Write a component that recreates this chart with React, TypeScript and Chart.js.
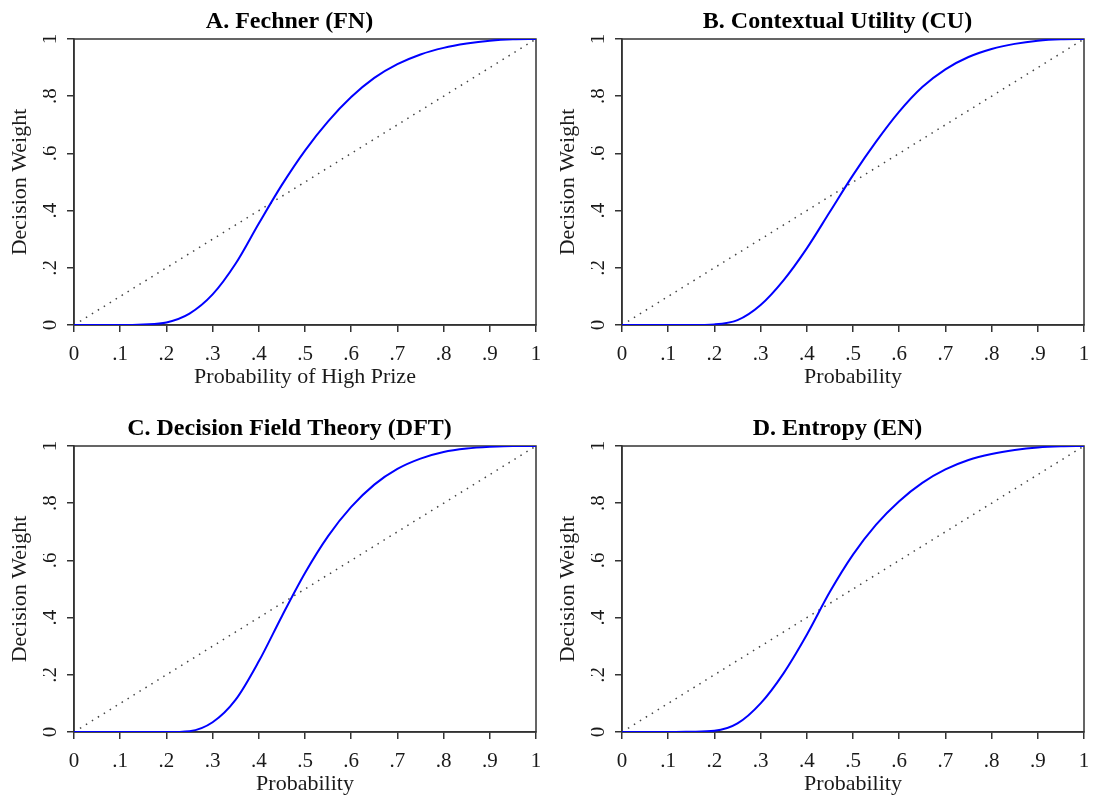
import React, { useEffect, useRef } from 'react';
import { Chart, registerables } from 'chart.js';

Chart.register(...registerables);
Chart.defaults.font.family = "'Liberation Serif', 'Times New Roman', serif";

// ---- data ----
const PROB = [0, 0.05, 0.1, 0.15, 0.2, 0.25, 0.3, 0.35, 0.4, 0.45, 0.5, 0.55, 0.6, 0.65, 0.7, 0.75, 0.8, 0.85, 0.9, 0.95, 1];
const FN_WEIGHT = [0, 0, 0, 0.002, 0.009, 0.04, 0.107, 0.215, 0.355, 0.49, 0.61, 0.712, 0.797, 0.864, 0.912, 0.946, 0.969, 0.984, 0.994, 0.999, 1];
const CU_WEIGHT = [0, 0, 0, 0, 0.002, 0.017, 0.07, 0.157, 0.268, 0.396, 0.524, 0.641, 0.746, 0.832, 0.894, 0.937, 0.965, 0.983, 0.994, 0.999, 1];
const DFT_WEIGHT = [0, 0, 0, 0, 0, 0.003, 0.034, 0.113, 0.247, 0.405, 0.556, 0.685, 0.787, 0.865, 0.92, 0.956, 0.979, 0.991, 0.997, 1, 1];
const EN_WEIGHT = [0, 0, 0, 0.001, 0.004, 0.03, 0.1, 0.206, 0.34, 0.49, 0.62, 0.725, 0.807, 0.871, 0.918, 0.951, 0.972, 0.986, 0.995, 0.999, 1];
const DIAGONAL = [0, 1];

const X_TICK_LABELS = ['0', '.1', '.2', '.3', '.4', '.5', '.6', '.7', '.8', '.9', '1'];
const Y_TICK_LABELS = ['0', '.2', '.4', '.6', '.8', '1'];

const TITLES = ['A. Fechner (FN)', 'B. Contextual Utility (CU)', 'C. Decision Field Theory (DFT)', 'D. Entropy (EN)'];
const X_LABELS = ['Probability of High Prize', 'Probability', 'Probability', 'Probability'];
const Y_LABEL = 'Decision Weight';
const SERIES = [FN_WEIGHT, CU_WEIGHT, DFT_WEIGHT, EN_WEIGHT];

// ---- layout ----
const PANEL_POS = [
  { left: 0, top: 0 },
  { left: 548, top: 0 },
  { left: 0, top: 407 },
  { left: 548, top: 407 },
];
const CANVAS_W = 547;
const CANVAS_H = 400;
const AXIS_COLOR = '#333333';
const TEXT_COLOR = '#1a1a1a';

const framePlugin = {
  id: 'plotFrame',
  beforeDatasetsDraw(chart: any) {
    const { ctx, chartArea } = chart;
    ctx.save();
    ctx.strokeStyle = AXIS_COLOR;
    ctx.lineWidth = 1.5;
    ctx.strokeRect(chartArea.left, chartArea.top, chartArea.right - chartArea.left, chartArea.bottom - chartArea.top);
    ctx.restore();
  },
};

function Panel({ idx }: { idx: number }) {
  const ref = useRef<HTMLCanvasElement>(null);
  useEffect(() => {
    const values = SERIES[idx];
    const chart = new Chart(ref.current as HTMLCanvasElement, {
      type: 'scatter',
      data: {
        datasets: [
          {
            data: PROB.map((p, i) => ({ x: p, y: values[i] })),
            showLine: true,
            borderColor: '#0000ff',
            borderWidth: 2,
            pointRadius: 0,
            cubicInterpolationMode: 'monotone',
            fill: false,
          } as any,
          {
            data: DIAGONAL.map((v) => ({ x: v, y: v })),
            showLine: true,
            borderColor: '#444444',
            borderWidth: 1.5,
            borderDash: [1.5, 5.5],
            pointRadius: 0,
            fill: false,
          } as any,
        ],
      },
      options: {
        animation: false,
        responsive: false,
        events: [],
        layout: { padding: { left: 43, right: 11, top: 0, bottom: 0 } },
        plugins: {
          legend: { display: false },
          tooltip: { enabled: false },
          title: {
            display: true,
            text: TITLES[idx],
            color: '#000',
            font: { size: 24, weight: 'bold' },
            padding: { top: 7.3, bottom: 2.9 },
          },
        },
        scales: {
          x: {
            type: 'linear',
            min: 0,
            max: 1,
            afterFit: (s: any) => {
              s.height = 75;
              s.paddingLeft = 0;
              s.paddingRight = 0;
            },
            ticks: {
              stepSize: 0.1,
              autoSkip: false,
              maxRotation: 0,
              callback: (_v: any, i: number) => X_TICK_LABELS[i],
              font: { size: 21 },
              color: TEXT_COLOR,
              padding: 10,
            },
            grid: { drawOnChartArea: false, tickLength: 7, color: AXIS_COLOR, lineWidth: 1.5 },
            border: { display: true, color: AXIS_COLOR, width: 1.5 },
            title: {
              display: true,
              text: X_LABELS[idx],
              font: { size: 22 },
              color: TEXT_COLOR,
              padding: { top: 0, bottom: 9.8 },
            },
          },
          y: {
            type: 'linear',
            min: 0,
            max: 1,
            afterFit: (s: any) => {
              s.width = 31;
              s.paddingTop = 0;
              s.paddingBottom = 0;
            },
            ticks: {
              stepSize: 0.2,
              autoSkip: false,
              minRotation: 90,
              maxRotation: 90,
              crossAlign: 'center',
              callback: (_v: any, i: number) => Y_TICK_LABELS[i],
              font: { size: 21 },
              color: TEXT_COLOR,
              padding: 9,
            },
            grid: { drawOnChartArea: false, tickLength: 7, color: AXIS_COLOR, lineWidth: 1.5 },
            border: { display: true, color: AXIS_COLOR, width: 1.5 },
            title: {
              display: true,
              text: Y_LABEL,
              font: { size: 22 },
              color: TEXT_COLOR,
              padding: { top: -35.7, bottom: 0 },
            },
          },
        },
      } as any,
      plugins: [framePlugin],
    });
    return () => chart.destroy();
  }, [idx]);
  const pos = PANEL_POS[idx];
  return (
    <canvas
      ref={ref}
      width={CANVAS_W}
      height={CANVAS_H}
      style={{ position: 'absolute', left: pos.left, top: pos.top, width: CANVAS_W, height: CANVAS_H }}
    />
  );
}

export default function App() {
  return (
    <div style={{ position: 'absolute', left: 0, top: 0, width: 1095, height: 801, overflow: 'hidden', background: '#fff' }}>
      {[0, 1, 2, 3].map((i) => (
        <Panel key={i} idx={i} />
      ))}
    </div>
  );
}
